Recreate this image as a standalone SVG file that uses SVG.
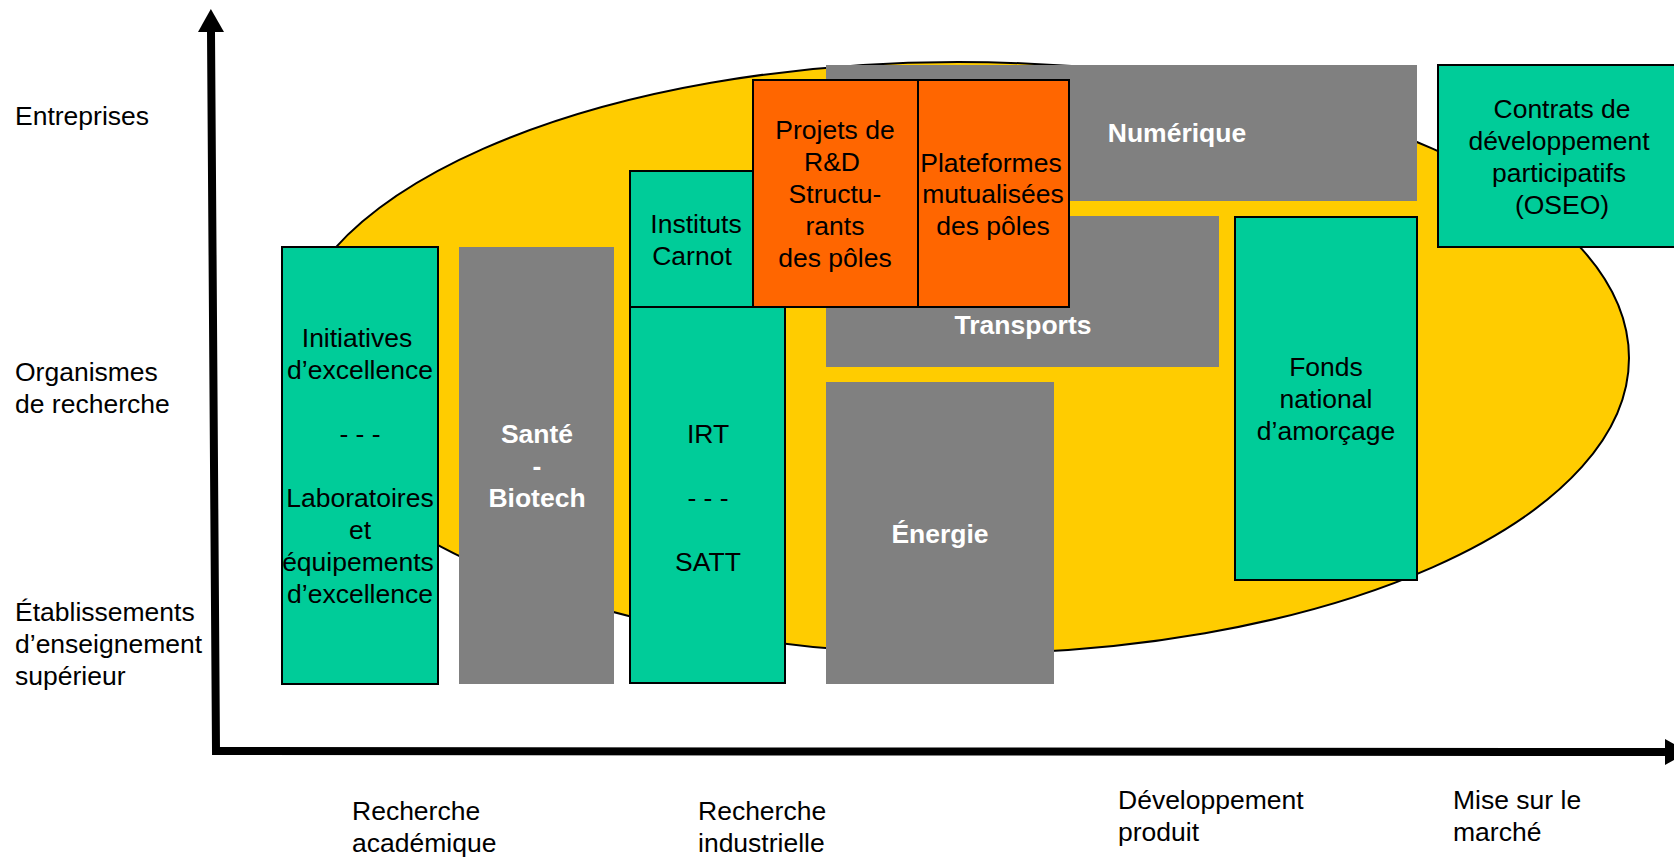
<svg xmlns="http://www.w3.org/2000/svg" width="1674" height="857" viewBox="0 0 1674 857">
<style>
  text { font-family: "Liberation Sans", Arial, sans-serif; font-size: 26.5px; fill: #000; }
  .c { text-anchor: middle; }
  .w { fill: #fff; font-weight: bold; }
  .green { fill: #00CC99; stroke: #000; stroke-width: 2; }
  .orange { fill: #FF6600; stroke: #000; stroke-width: 2; }
  .gray { fill: #808080; stroke: none; }
  .ell { fill: #FFCC00; stroke: #000; stroke-width: 2; }
  .axis { fill: none; stroke: #000; stroke-width: 8; stroke-linejoin: miter; }
</style>
<defs>
  <marker id="arrow" markerUnits="userSpaceOnUse" markerWidth="24" markerHeight="26" refX="0" refY="13" orient="auto-start-reverse" overflow="visible">
    <path d="M0,0 L23,13 L0,26 z" fill="#000"/>
  </marker>
</defs>

<rect width="1674" height="857" fill="#fff"/>

<g id="connectors">
  <path class="axis" d="M211,32 L216,751 L1665,752" marker-start="url(#arrow)" marker-end="url(#arrow)"/>
</g>

<g id="axis-labels">
  <text x="15" y="125">Entreprises</text>
  <text x="15" y="381">Organismes</text>
  <text x="15" y="413">de recherche</text>
  <text x="15" y="621">Établissements</text>
  <text x="15" y="653">d’enseignement</text>
  <text x="15" y="685">supérieur</text>
  <text x="352" y="820">Recherche</text>
  <text x="352" y="852">académique</text>
  <text x="698" y="820">Recherche</text>
  <text x="698" y="852">industrielle</text>
  <text x="1118" y="809">Développement</text>
  <text x="1118" y="841">produit</text>
  <text x="1453" y="809">Mise sur le</text>
  <text x="1453" y="841">marché</text>
</g>

<g id="ellipse">
  <ellipse class="ell" cx="958" cy="358" rx="671" ry="296"/>
</g>

<g id="numerique">
  <rect class="gray" x="826" y="65" width="591" height="136"/>
  <text class="c w" x="1177" y="142">Numérique</text>
</g>

<g id="transports">
  <rect class="gray" x="826" y="216" width="393" height="151"/>
  <text class="c w" x="1023" y="334">Transports</text>
</g>

<g id="energie">
  <rect class="gray" x="826" y="382" width="228" height="302"/>
  <text class="c w" x="940" y="543">Énergie</text>
</g>

<g id="sante">
  <rect class="gray" x="459" y="247" width="155" height="437"/>
  <text class="c w" x="537" y="443">Santé</text>
  <text class="c w" x="537" y="475">-</text>
  <text class="c w" x="537" y="507">Biotech</text>
</g>

<g id="initiatives">
  <rect class="green" x="282" y="247" width="156" height="437"/>
  <text class="c" x="357" y="347">Initiatives</text>
  <text class="c" x="360" y="379">d’excellence</text>
  <text class="c" x="360" y="443">- - -</text>
  <text class="c" x="360" y="507">Laboratoires</text>
  <text class="c" x="360" y="539">et</text>
  <text class="c" x="358" y="571">équipements</text>
  <text class="c" x="360" y="603">d’excellence</text>
</g>

<g id="irt-satt">
  <rect class="green" x="630" y="307" width="155" height="376"/>
  <text class="c" x="708" y="443">IRT</text>
  <text class="c" x="708" y="507">- - -</text>
  <text class="c" x="708" y="571">SATT</text>
</g>

<g id="carnot">
  <rect class="green" x="630" y="171" width="123" height="136"/>
  <text class="c" x="696" y="233">Instituts</text>
  <text class="c" x="692" y="265">Carnot</text>
</g>

<g id="projets">
  <rect class="orange" x="753" y="80" width="165" height="227"/>
  <text class="c" x="835" y="139">Projets de</text>
  <text class="c" x="832" y="171">R&amp;D</text>
  <text class="c" x="835" y="203">Structu-</text>
  <text class="c" x="835" y="235">rants</text>
  <text class="c" x="835" y="267">des pôles</text>
</g>

<g id="plateformes">
  <rect class="orange" x="918" y="80" width="151" height="227"/>
  <text class="c" x="991" y="172">Plateformes</text>
  <text class="c" x="993" y="203">mutualisées</text>
  <text class="c" x="993" y="235">des pôles</text>
</g>

<g id="fonds">
  <rect class="green" x="1235" y="217" width="182" height="363"/>
  <text class="c" x="1326" y="376">Fonds</text>
  <text class="c" x="1326" y="408">national</text>
  <text class="c" x="1326" y="440">d’amorçage</text>
</g>

<g id="contrats">
  <rect class="green" x="1438" y="65" width="250" height="182"/>
  <text class="c" x="1562" y="118">Contrats de</text>
  <text class="c" x="1559" y="150">développement</text>
  <text class="c" x="1559" y="182">participatifs</text>
  <text class="c" x="1562" y="214">(OSEO)</text>
</g>
</svg>
